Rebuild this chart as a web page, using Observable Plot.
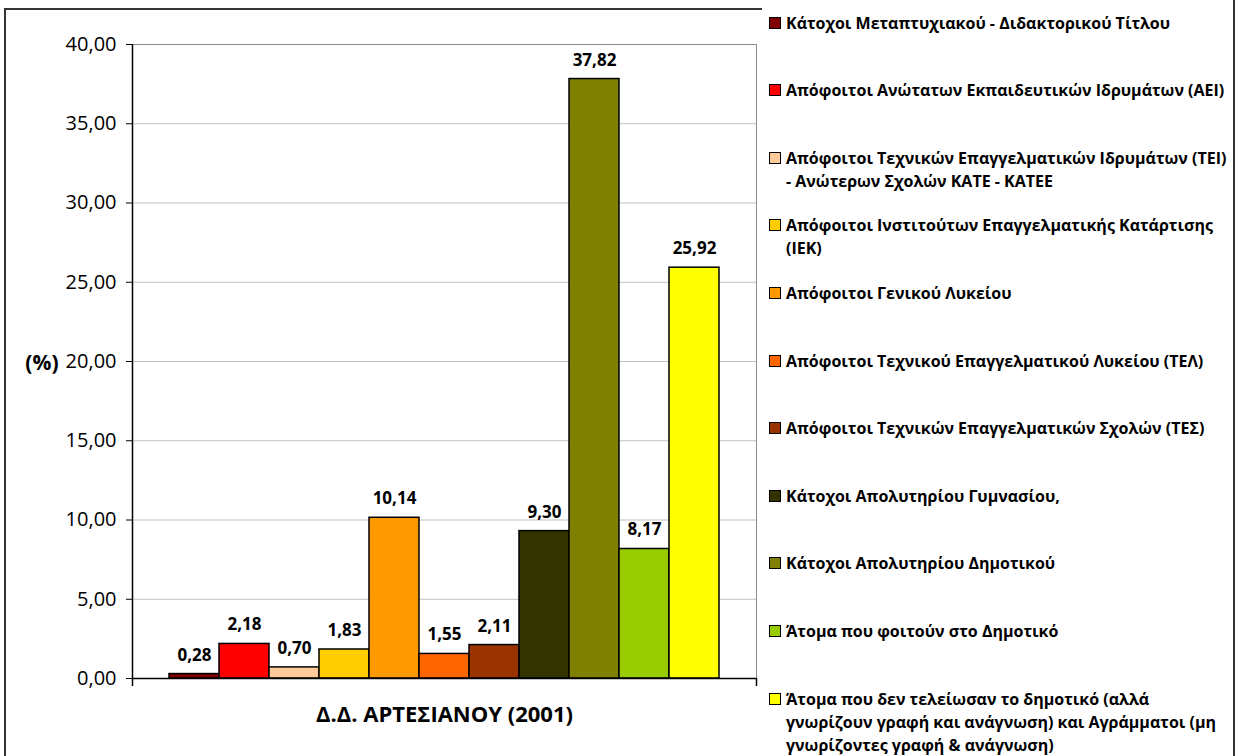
<!DOCTYPE html>
<html>
<head>
<meta charset="utf-8">
<script src="https://cdn.jsdelivr.net/npm/d3@7"></script>
<script src="https://cdn.jsdelivr.net/npm/@observablehq/plot@0.6"></script>
<style>
  html, body { margin: 0; padding: 0; background: #fff; }
  #wrap { position: relative; width: 1240px; height: 756px; overflow: hidden; font-family: "Open Sans", sans-serif; }
  #wrap svg { position: absolute; left: 0; top: 0; }
  .bd { position: absolute; background: #333; }
  #legend { position: absolute; left: 0; top: 0; }
  .row { position: absolute; left: 769px; display: flex; align-items: flex-start; }
  .sw { width: 10px; height: 10px; border: 1.5px solid #000; margin-top: 5px; flex: none; }
  .lb { margin-left: 5px; font-size: 16px; font-weight: 700; line-height: 23px; white-space: pre; color: #000; }
</style>
</head>
<body>
<div id="wrap"></div>
<script>
// ---- data ----
const labels = [
  "Κάτοχοι Μεταπτυχιακού - Διδακτορικού Τίτλου",
  "Απόφοιτοι Ανώτατων Εκπαιδευτικών Ιδρυμάτων (ΑΕΙ)",
  "Απόφοιτοι Τεχνικών Επαγγελματικών Ιδρυμάτων (ΤΕΙ)\n- Ανώτερων Σχολών ΚΑΤΕ - ΚΑΤΕΕ",
  "Απόφοιτοι Ινστιτούτων Επαγγελματικής Κατάρτισης\n(ΙΕΚ)",
  "Απόφοιτοι Γενικού Λυκείου",
  "Απόφοιτοι Τεχνικού Επαγγελματικού Λυκείου (ΤΕΛ)",
  "Απόφοιτοι Τεχνικών Επαγγελματικών Σχολών (ΤΕΣ)",
  "Κάτοχοι Απολυτηρίου Γυμνασίου,",
  "Κάτοχοι Απολυτηρίου Δημοτικού",
  "Άτομα που φοιτούν στο Δημοτικό",
  "Άτομα που δεν τελείωσαν το δημοτικό (αλλά\nγνωρίζουν γραφή και ανάγνωση) και Αγράμματοι (μη\nγνωρίζοντες γραφή & ανάγνωση)"
];
const values = [0.28, 2.18, 0.70, 1.83, 10.14, 1.55, 2.11, 9.30, 37.82, 8.17, 25.92];
const colors = ["#800000", "#FF0000", "#FFCC99", "#FFCC00", "#FF9900", "#FF6600", "#993300", "#333300", "#808000", "#99CC00", "#FFFF00"];
const yTicks = [0, 5, 10, 15, 20, 25, 30, 35, 40];
const gridTicks = [5, 10, 15, 20, 25, 30, 35];
const groupLabel = "Δ.Δ. ΑΡΤΕΣΙΑΝΟΥ (2001)";
const yLabel = "(%)";

const rows = labels.map((c, i) => ({cat: c, value: values[i], color: colors[i]}));
const fmt = d => d.toFixed(2).replace(".", ",");

const chart = Plot.plot({
  width: 1240,
  height: 756,
  marginLeft: 132,
  marginRight: 484,
  marginTop: 44,
  marginBottom: 78,
  style: {fontFamily: "Open Sans, sans-serif", background: "transparent", color: "#000"},
  x: {domain: labels, padding: 0, insetLeft: 37, insetRight: 37, axis: null},
  y: {domain: [0, 40], axis: null},
  marks: [
    Plot.gridY(gridTicks, {stroke: "#c0c0c0", strokeOpacity: 1}),
    Plot.ruleY([40], {stroke: "#8c8c8c"}),
    Plot.ruleX([labels[labels.length - 1]], {y1: 0, y2: 40, dx: 62, stroke: "#8c8c8c"}),
    Plot.barY(rows, {x: "cat", y: "value", fill: "color", stroke: "#000", strokeWidth: 1.5}),
    Plot.ruleY([0], {stroke: "#000", strokeWidth: 1.5}),
    Plot.ruleX([labels[0]], {y1: 40, y2: -0.5, dx: -62, stroke: "#000", strokeWidth: 1.5}),
    Plot.ruleX([labels[labels.length - 1]], {y1: 0, y2: -0.5, dx: 62, stroke: "#000", strokeWidth: 1.5}),
    Plot.axisY(yTicks, {tickFormat: fmt, tickSize: 6, tickPadding: 10, fontSize: 20, label: null, stroke: "#000"}),
    Plot.text(rows, {x: "cat", y: "value", text: d => fmt(d.value), dy: -19, fontSize: 17, fontWeight: "bold", fill: "#000"}),
    Plot.text([groupLabel], {frameAnchor: "bottom", dy: 43, fontSize: 22, fontWeight: "bold", fill: "#000"}),
    Plot.text([yLabel], {frameAnchor: "left", dx: -74, dy: 2, textAnchor: "end", fontSize: 21, fontWeight: "bold", fill: "#000"})
  ]
});

const wrap = document.getElementById("wrap");
wrap.appendChild(chart);

// chart-area border
function line(l, t, w, h) {
  const d = document.createElement("div");
  d.className = "bd";
  d.style.left = l + "px"; d.style.top = t + "px"; d.style.width = w + "px"; d.style.height = h + "px";
  wrap.appendChild(d);
}
line(4, 8, 758, 2);
line(4, 8, 2, 748);
line(1233, 0, 2, 756);

// legend
const legend = document.createElement("div");
legend.id = "legend";
labels.forEach((lab, i) => {
  const r = document.createElement("div");
  r.className = "row";
  r.style.top = (11.5 + 67.6 * i) + "px";
  const sw = document.createElement("div");
  sw.className = "sw";
  sw.style.background = colors[i];
  const t = document.createElement("div");
  t.className = "lb";
  t.textContent = lab;
  r.appendChild(sw); r.appendChild(t);
  legend.appendChild(r);
});
wrap.appendChild(legend);
</script>
</body>
</html>
